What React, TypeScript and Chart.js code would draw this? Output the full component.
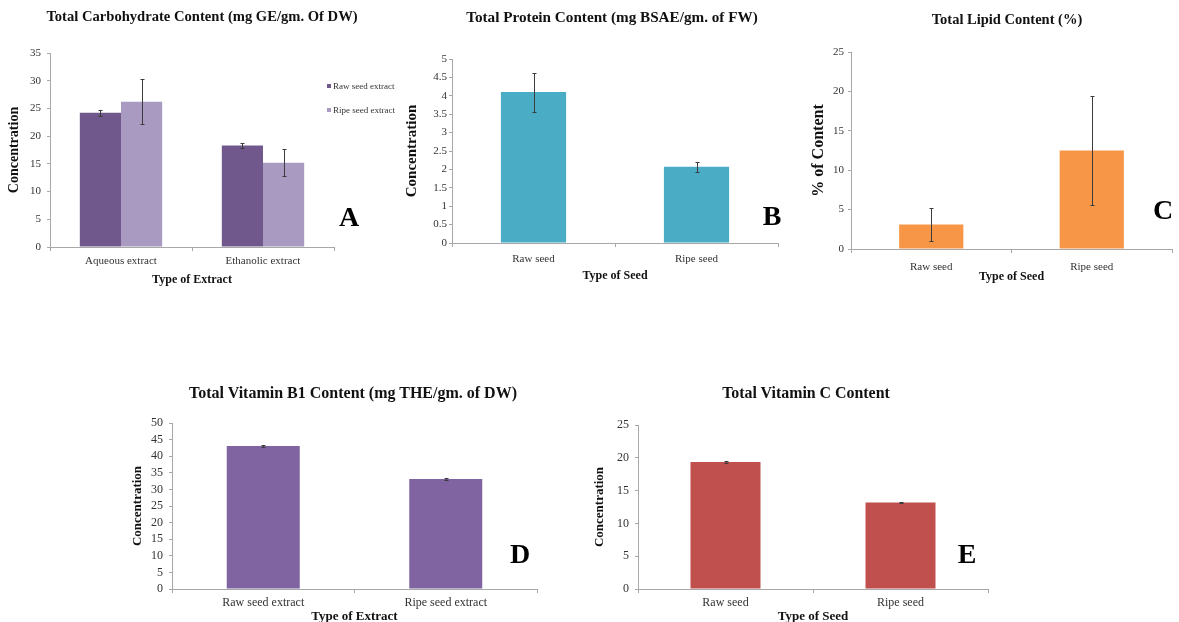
import React, { useEffect, useRef } from "react";
import { Chart, registerables } from "chart.js";

Chart.register(...registerables);

// ---------- DATA ----------
const carbCategories = ["Aqueous extract", "Ethanolic extract"];
const carbLegend = ["Raw seed extract", "Ripe seed extract"];
const carbRaw = [24.2, 18.3];
const carbRawErr = [0.6, 0.4];
const carbRipe = [26.2, 15.2];
const carbRipeErr = [4.05, 2.4];

const seedCategories = ["Raw seed", "Ripe seed"];
const protein = [4.1, 2.07];
const proteinErr = [0.53, 0.13];

const lipid = [3.1, 12.5];
const lipidErr = [2.05, 6.9];

const extractCategories = ["Raw seed extract", "Ripe seed extract"];
const vitB1 = [43.1, 33.1];
const vitB1Err = [0.2, 0.25];

const vitC = [19.35, 13.2];
const vitCErr = [0.1, 0.12];

const carbTicks = { max: 35, step: 5 };
const proteinTicks = { max: 5, step: 0.5 };
const lipidTicks = { max: 25, step: 5 };
const vitB1Ticks = { max: 50, step: 5 };
const vitCTicks = { max: 25, step: 5 };

const SERIF = "'Liberation Serif', 'Times New Roman', serif";
const AXIS = "#a8a8a8";

// ---------- ERROR BAR PLUGIN ----------
const errorBarPlugin = {
  id: "errorBars",
  afterDatasetsDraw(chart: any) {
    const ctx = chart.ctx;
    const yScale = chart.scales.y;
    chart.data.datasets.forEach((ds: any, di: number) => {
      const errs = ds.errors;
      if (!errs) return;
      const meta = chart.getDatasetMeta(di);
      meta.data.forEach((bar: any, i: number) => {
        const v = ds.data[i];
        const e = errs[i];
        const x = Math.round(bar.x) + 0.5;
        const yt = Math.round(yScale.getPixelForValue(v + e)) + 0.5;
        const yb = Math.round(yScale.getPixelForValue(v - e)) + 0.5;
        ctx.save();
        ctx.strokeStyle = "#3c3c3c";
        ctx.lineWidth = 1;
        ctx.beginPath();
        ctx.moveTo(x, yt);
        ctx.lineTo(x, yb);
        ctx.moveTo(x - 2, yt);
        ctx.lineTo(x + 2, yt);
        ctx.moveTo(x - 2, yb);
        ctx.lineTo(x + 2, yb);
        ctx.stroke();
        ctx.restore();
      });
    });
  },
};

// ---------- PANEL CONFIGS ----------
type DS = { label: string; data: number[]; errors: number[]; color: string };
type PanelCfg = {
  key: string;
  categories: string[];
  datasets: DS[];
  ticks: { max: number; step: number };
  yTitle: string;
  xTitle: string;
  canvas: { left: number; top: number; width: number; height: number };
  plot: { left: number; top: number; right: number; bottom: number };
  tickSize: number;
  yTitleSize: number;
  xTitleSize: number;
  yTitlePad: number;
  xTitlePad: number;
  yTickPad: number;
  xTickPad: number;
  barPct: number;
};

const panels: PanelCfg[] = [
  {
    key: "A",
    categories: carbCategories,
    datasets: [
      { label: carbLegend[0], data: carbRaw, errors: carbRawErr, color: "#70588d" },
      { label: carbLegend[1], data: carbRipe, errors: carbRipeErr, color: "#a89ac0" },
    ],
    ticks: carbTicks,
    yTitle: "Concentration",
    xTitle: "Type of Extract",
    canvas: { left: 0, top: 0, width: 340, height: 300 },
    plot: { left: 50, top: 53, right: 334, bottom: 247 },
    tickSize: 11,
    yTitleSize: 14,
    xTitleSize: 12,
    yTitlePad: 5.6,
    xTitlePad: 12.8,
    yTickPad: 6,
    xTickPad: 3.4,
    barPct: 0.58,
  },
  {
    key: "B",
    categories: seedCategories,
    datasets: [{ label: "Protein", data: protein, errors: proteinErr, color: "#4bacc6" }],
    ticks: proteinTicks,
    yTitle: "Concentration",
    xTitle: "Type of Seed",
    canvas: { left: 400, top: 0, width: 385, height: 300 },
    plot: { left: 452, top: 59, right: 778, bottom: 243 },
    tickSize: 11,
    yTitleSize: 15,
    xTitleSize: 12,
    yTitlePad: 3,
    xTitlePad: 16.8,
    yTickPad: 2,
    xTickPad: 5.4,
    barPct: 0.4,
  },
  {
    key: "C",
    categories: seedCategories,
    datasets: [{ label: "Lipid", data: lipid, errors: lipidErr, color: "#f79646" }],
    ticks: lipidTicks,
    yTitle: "% of Content",
    xTitle: "Type of Seed",
    canvas: { left: 806, top: 0, width: 373, height: 300 },
    plot: { left: 851, top: 52, right: 1172, bottom: 249 },
    tickSize: 11,
    yTitleSize: 16,
    xTitleSize: 12,
    yTitlePad: 3.4,
    xTitlePad: 15.8,
    yTickPad: 4,
    xTickPad: 7.4,
    barPct: 0.4,
  },
  {
    key: "D",
    categories: extractCategories,
    datasets: [{ label: "Vitamin B1", data: vitB1, errors: vitB1Err, color: "#8064a2" }],
    ticks: vitB1Ticks,
    yTitle: "Concentration",
    xTitle: "Type of Extract",
    canvas: { left: 125, top: 370, width: 420, height: 260 },
    plot: { left: 172, top: 423, right: 537, bottom: 589 },
    tickSize: 12,
    yTitleSize: 13,
    xTitleSize: 13,
    yTitlePad: 5.2,
    xTitlePad: 5.2,
    yTickPad: 6,
    xTickPad: 2.5,
    barPct: 0.4,
  },
  {
    key: "E",
    categories: seedCategories,
    datasets: [{ label: "Vitamin C", data: vitC, errors: vitCErr, color: "#c0504d" }],
    ticks: vitCTicks,
    yTitle: "Concentration",
    xTitle: "Type of Seed",
    canvas: { left: 590, top: 370, width: 405, height: 260 },
    plot: { left: 638, top: 425, right: 988, bottom: 589 },
    tickSize: 12,
    yTitleSize: 13,
    xTitleSize: 13,
    yTitlePad: 2.2,
    xTitlePad: 5.2,
    yTickPad: 6,
    xTickPad: 2.5,
    barPct: 0.4,
  },
];

// Panel headings, letters (page positions)
const headings = [
  { text: "Total Carbohydrate Content (mg GE/gm. Of DW)", x: 202, y: 17, size: 14.6 },
  { text: "Total Protein Content (mg BSAE/gm. of FW)", x: 612, y: 17, size: 15.2 },
  { text: "Total Lipid Content (%)", x: 1007, y: 20, size: 14.5 },
  { text: "Total Vitamin B1 Content (mg THE/gm. of DW)", x: 353, y: 393, size: 16 },
  { text: "Total Vitamin C Content", x: 806, y: 393, size: 15.9 },
];
const letters = [
  { text: "A", x: 349, y: 217 },
  { text: "B", x: 772, y: 216 },
  { text: "C", x: 1163, y: 210 },
  { text: "D", x: 520, y: 554 },
  { text: "E", x: 967, y: 554 },
];

function Panel({ cfg }: { cfg: PanelCfg }) {
  const ref = useRef<HTMLCanvasElement | null>(null);
  useEffect(() => {
    if (!ref.current) return;
    const c = cfg.canvas;
    const p = cfg.plot;
    const yWidth = p.left - c.left;
    const xHeight = c.top + c.height - p.bottom;
    const padTop = p.top - c.top;
    const padRight = c.left + c.width - p.right;
    const chart = new Chart(ref.current, {
      type: "bar",
      data: {
        labels: cfg.categories,
        datasets: cfg.datasets.map((d) => ({
          label: d.label,
          data: d.data,
          errors: d.errors,
          backgroundColor: d.color,
          borderWidth: 0,
          categoryPercentage: cfg.barPct,
          barPercentage: 1,
        })) as any,
      },
      options: {
        animation: false,
        responsive: false,
        maintainAspectRatio: false,
        devicePixelRatio: 1,
        layout: { padding: { top: padTop, right: padRight, left: 0, bottom: 0 } },
        plugins: {
          legend: { display: false },
          title: { display: false },
          tooltip: { enabled: false },
        },
        scales: {
          x: {
            afterFit: (s: any) => {
              s.height = xHeight;
            },
            grid: {
              display: true,
              drawOnChartArea: false,
              drawTicks: true,
              tickLength: 4,
              color: AXIS,
              offset: true,
            },
            border: { display: true, color: AXIS, width: 1 },
            ticks: {
              color: "#333",
              font: { family: SERIF, size: cfg.tickSize },
              padding: cfg.xTickPad,
              maxRotation: 0,
              autoSkip: false,
            },
            title: {
              display: true,
              text: cfg.xTitle,
              color: "#111",
              font: { family: SERIF, size: cfg.xTitleSize, weight: "bold" },
              padding: { top: 0, bottom: cfg.xTitlePad },
            },
          },
          y: {
            min: 0,
            max: cfg.ticks.max,
            afterFit: (s: any) => {
              s.width = yWidth;
            },
            grid: {
              display: true,
              drawOnChartArea: false,
              drawTicks: true,
              tickLength: 3,
              color: AXIS,
            },
            border: { display: true, color: AXIS, width: 1 },
            ticks: {
              stepSize: cfg.ticks.step,
              autoSkip: false,
              color: "#333",
              font: { family: SERIF, size: cfg.tickSize },
              padding: cfg.yTickPad,
              callback: (v: any) => String(Math.round(Number(v) * 100) / 100),
            },
            title: {
              display: true,
              text: cfg.yTitle,
              color: "#111",
              font: { family: SERIF, size: cfg.yTitleSize, weight: "bold" },
              padding: { top: cfg.yTitlePad, bottom: 0 },
            },
          },
        },
      },
      plugins: [errorBarPlugin],
    });
    return () => chart.destroy();
  }, [cfg]);
  const c = cfg.canvas;
  return (
    <canvas
      ref={ref}
      width={c.width}
      height={c.height}
      style={{ position: "absolute", left: c.left, top: c.top, width: c.width, height: c.height }}
    />
  );
}

export default function App() {
  const legendItems = [
    { text: carbLegend[0], color: "#70588d", y: 86 },
    { text: carbLegend[1], color: "#a89ac0", y: 110 },
  ];
  return (
    <div
      style={{
        position: "fixed",
        left: 0,
        top: 0,
        width: 1179,
        height: 622,
        overflow: "hidden",
        background: "#fff",
        fontFamily: SERIF,
      }}
    >
      {panels.map((p) => (
        <Panel key={p.key} cfg={p} />
      ))}
      {headings.map((h) => (
        <div
          key={h.text}
          style={{
            position: "absolute",
            left: h.x - 300,
            width: 600,
            top: h.y - h.size * 0.6,
            height: h.size * 1.2,
            lineHeight: `${h.size * 1.2}px`,
            textAlign: "center",
            fontWeight: "bold",
            fontSize: h.size,
            color: "#111",
            whiteSpace: "nowrap",
          }}
        >
          {h.text}
        </div>
      ))}
      {letters.map((l) => (
        <div
          key={l.text}
          style={{
            position: "absolute",
            left: l.x - 20,
            width: 40,
            top: l.y - 17,
            height: 34,
            lineHeight: "34px",
            textAlign: "center",
            fontWeight: "bold",
            fontSize: 28,
            color: "#000",
          }}
        >
          {l.text}
        </div>
      ))}
      {legendItems.map((it) => (
        <div
          key={it.text}
          style={{
            position: "absolute",
            left: 327,
            top: it.y - 6,
            height: 12,
            lineHeight: "12px",
            fontSize: 9,
            color: "#333",
            whiteSpace: "nowrap",
            display: "flex",
            alignItems: "center",
          }}
        >
          <span
            style={{ display: "inline-block", width: 4, height: 4, background: it.color, marginRight: 2 }}
          />
          {it.text}
        </div>
      ))}
    </div>
  );
}
